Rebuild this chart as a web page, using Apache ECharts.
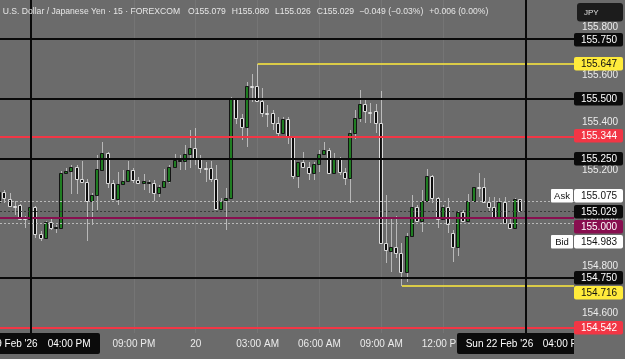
<!DOCTYPE html>
<html><head><meta charset="utf-8">
<script src="https://cdn.jsdelivr.net/npm/echarts@6/dist/echarts.min.js"></script>
<style>html,body{margin:0;padding:0;background:#6b6b6b;overflow:hidden}#c{width:625px;height:359px}</style>
</head><body><div id="c"></div>
<script>
// ---------- DATA ----------
const firstBarIndex = -6; // bar index 0 = Thu 19 Feb '26 04:00 PM (15-minute bars)
const opens = [155.067,155.109,155.081,155.051,155.053,155.003,154.997,155.048,154.933,154.916,154.982,154.960,154.958,155.189,155.198,155.213,155.165,155.150,155.073,155.098,155.203,155.271,155.146,155.081,155.143,155.154,155.201,155.161,155.146,155.150,155.146,155.104,155.129,155.154,155.212,155.242,155.239,155.267,155.295,155.246,155.210,155.211,155.162,155.038,155.074,155.083,155.497,155.418,155.383,155.553,155.553,155.490,155.440,155.439,155.397,155.358,155.414,155.345,155.177,155.236,155.215,155.190,155.225,155.270,155.284,155.190,155.253,155.193,155.166,155.358,155.418,155.478,155.446,155.450,155.397,154.897,154.863,154.877,154.852,154.774,154.925,155.045,154.989,155.071,155.176,155.083,154.995,155.048,154.936,154.880,155.024,154.988,155.071,155.129,155.129,155.066,155.045,155.006,155.066,154.981,154.957,155.079];
const highs = [155.119,155.119,155.105,155.070,155.059,155.008,155.055,155.050,154.944,154.986,155.000,154.972,155.198,155.210,155.222,155.221,155.240,155.165,155.105,155.265,155.319,155.277,155.159,155.193,155.201,155.240,155.210,155.172,155.185,155.161,155.161,155.140,155.207,155.224,155.268,155.264,155.306,155.369,155.379,155.264,155.236,155.239,155.222,155.085,155.127,155.508,155.504,155.435,155.569,155.602,155.647,155.546,155.474,155.453,155.425,155.425,155.425,155.345,155.236,155.275,155.236,155.236,155.285,155.320,155.292,155.271,155.257,155.208,155.369,155.453,155.536,155.495,155.481,155.478,155.534,155.097,154.999,155.009,154.894,154.936,155.097,155.055,155.117,155.205,155.180,155.089,155.055,155.083,154.950,155.031,155.034,155.101,155.131,155.187,155.167,155.089,155.089,155.083,155.087,154.999,155.083,155.080];
const lows = [155.059,155.063,155.045,155.014,154.993,154.958,154.994,154.916,154.903,154.912,154.951,154.937,154.954,155.185,155.101,155.101,155.146,154.903,154.972,155.035,155.201,155.126,155.078,155.056,155.141,155.150,155.147,155.143,155.119,155.105,155.073,155.087,155.126,155.147,155.210,155.201,155.201,155.210,155.222,155.187,155.152,155.152,155.034,155.034,154.950,155.080,155.393,155.327,155.299,155.487,155.487,155.425,155.383,155.369,155.334,155.355,155.309,155.164,155.127,155.208,155.159,155.159,155.194,155.264,155.187,155.187,155.180,155.139,155.062,155.330,155.404,155.397,155.397,155.355,154.894,154.810,154.775,154.831,154.716,154.733,154.922,154.985,154.943,155.068,155.062,154.957,154.992,154.939,154.817,154.842,154.985,154.985,155.068,155.089,155.062,155.027,155.003,155.003,154.978,154.953,154.953,155.026];
const closes = [155.109,155.084,155.049,155.049,154.996,154.998,155.048,154.933,154.916,154.982,154.958,154.963,155.187,155.198,155.215,155.164,155.150,155.073,155.098,155.205,155.271,155.146,155.081,155.143,155.154,155.201,155.159,155.147,155.154,155.151,155.104,155.129,155.157,155.212,155.242,155.244,155.267,155.295,155.246,155.208,155.209,155.162,155.038,155.071,155.083,155.497,155.418,155.383,155.553,155.551,155.490,155.439,155.438,155.397,155.358,155.414,155.345,155.177,155.236,155.215,155.187,155.225,155.270,155.284,155.190,155.253,155.193,155.166,155.358,155.418,155.478,155.450,155.445,155.397,154.897,154.866,154.877,154.852,154.774,154.925,155.045,154.989,155.071,155.176,155.083,154.995,155.048,154.975,154.880,155.024,154.988,155.071,155.129,155.127,155.066,155.045,155.006,155.066,154.981,154.957,155.079,155.029];

const priceTicks = [154.6, 154.8, 155.0, 155.2, 155.4, 155.6, 155.8];
const timeTickIdx = [20, 32, 44, 56, 68, 80];
const timeTickLabels = ['09:00 PM', '20', '03:00 AM', '06:00 AM', '09:00 AM', '12:00 PM'];

const blackLevels = [155.750, 155.500, 155.250, 154.750];
const redLevels = [155.344, 154.542];
const yellowStartIdx = [44, 72];
const yellowLevels = [155.647, 154.716];
const vLineIdx = [0, 96];
const vLineDates = ["Thu 19 Feb '26", "Sun 22 Feb '26"];
const vLineTimes = ['04:00 PM', '04:00 PM'];

const askPrice = 155.075, bidPrice = 154.983, lastPrice = 155.029, alertPrice = 155.000;

const labelPrices = [155.750, 155.647, 155.500, 155.344, 155.250, 155.075, 155.029, 155.000, 154.983, 154.750, 154.716, 154.542];
const labelKinds = ['black', 'yellow', 'black', 'red', 'black', 'ask', 'last', 'alert', 'bid', 'black', 'yellow', 'red'];

const headerTexts = ['U.S. Dollar / Japanese Yen · 15 · FOREXCOM', 'O155.079', 'H155.080', 'L155.026', 'C155.029', '\u22120.049 (\u22120.03%)', '+0.006 (0.00%)'];
const currencyLabel = 'JPY';

// ---------- LAYOUT / STYLE ----------
const BG = '#6b6b6b';
const FONT = 'Liberation Sans, Arial, sans-serif';
const xMin = -5.954, xMax = 105.373;
const yMin = 154.5184, yMax = 155.9135;

const candleData = opens.map((o, k) => [firstBarIndex + k, o, highs[k], lows[k], closes[k]]);

const chart = echarts.init(document.getElementById('c'), null, {renderer: 'canvas', width: 625, height: 359});

function hline(v, color, width, type) {
  return {yAxis: v, lineStyle: {color: color, width: width, type: type || 'solid'}};
}

const option = {
  animation: false,
  backgroundColor: BG,
  grid: {left: 0, right: 51, top: 0, bottom: 26},
  xAxis: {
    type: 'value', min: xMin, max: xMax,
    axisLine: {show: false}, axisTick: {show: false}, splitLine: {show: false},
    axisLabel: {
      customValues: timeTickIdx,
      formatter: v => { const k = timeTickIdx.indexOf(Math.round(v)); return k >= 0 ? timeTickLabels[k] : ''; },
      color: '#ececec', fontSize: 10, fontFamily: FONT, margin: 6
    }
  },
  yAxis: {
    type: 'value', position: 'right', min: yMin, max: yMax, scale: true,
    axisLine: {show: false}, axisTick: {show: false}, splitLine: {show: false},
    axisLabel: {
      customValues: priceTicks,
      formatter: v => v.toFixed(3),
      color: '#ececec', fontSize: 10, fontFamily: FONT, margin: 8
    }
  },
  series: [
    { // faint vertical grid
      type: 'line', data: [], z: 1, silent: true,
      markLine: {silent: true, animation: false, symbol: ['none', 'none'], label: {show: false},
        data: timeTickIdx.map(i => ({xAxis: i, lineStyle: {color: 'rgba(255,255,255,0.07)', width: 1, type: 'solid'}}))}
    },
    { // price lines (ask / last / alert / bid)
      type: 'line', data: [], z: 2, silent: true,
      markLine: {silent: true, animation: false, symbol: ['none', 'none'], label: {show: false},
        data: [
          hline(askPrice, '#b9b9b9', 1, [2, 2]),
          hline(lastPrice, '#3a3a3a', 1, [2, 2]),
          hline(bidPrice, '#b9b9b9', 1, [2, 2]),
          hline(alertPrice, '#880e4f', 2)
        ]}
    },
    { // candles
      type: 'custom', z: 3,
      data: candleData,
      encode: {x: 0, y: [1, 2, 3, 4]},
      renderItem: function (params, api) {
        const i = api.value(0), o = api.value(1), h = api.value(2), l = api.value(3), c = api.value(4);
        const pO = api.coord([i, o]), pC = api.coord([i, c]), pH = api.coord([i, h]), pL = api.coord([i, l]);
        const fx = Math.floor(pO[0]);
        const cx = fx + 0.5;
        const up = c >= o;
        let top = Math.round(Math.min(pO[1], pC[1])) + 0.5;
        let bot = Math.round(Math.max(pO[1], pC[1])) + 0.5;
        if (bot - top < 1) bot = top + 1;
        return {
          type: 'group',
          children: [
            {type: 'line', shape: {x1: cx, y1: Math.round(pH[1]), x2: cx, y2: Math.round(pL[1])},
              style: {stroke: '#b8b8b8', lineWidth: 1}},
            {type: 'rect', shape: {x: fx - 1.5, y: top, width: 3, height: bot - top},
              style: {fill: up ? '#1f7d22' : '#0c0c0c', stroke: up ? '#151515' : '#dcdcdc', lineWidth: 1}}
          ]
        };
      }
    },
    { // drawings
      type: 'line', data: [], z: 4, silent: true,
      markLine: {silent: true, animation: false, symbol: ['none', 'none'], label: {show: false},
        data: [].concat(
          blackLevels.map(v => hline(v, '#0a0a0a', 2)),
          redLevels.map(v => hline(v, '#f23645', 2)),
          yellowLevels.map((v, k) => [
            {coord: [yellowStartIdx[k], v], lineStyle: {color: '#ffeb3b', width: 1.7, type: 'solid'}},
            {coord: [xMax, v]}
          ]),
          vLineIdx.map(i => ({xAxis: i, lineStyle: {color: '#0a0a0a', width: 2, type: 'solid'}}))
        )}
    }
  ]
};
chart.setOption(option);

// ---------- overlay labels ----------
const yPix = p => chart.convertToPixel({yAxisIndex: 0}, p);
const xPix = i => chart.convertToPixel({xAxisIndex: 0}, i);
const kindStyle = {
  black: ['#0b0b0b', '#ffffff'], last: ['#0b0b0b', '#ffffff'], yellow: ['#ffeb3b', '#111111'],
  red: ['#f23645', '#ffffff'], alert: ['#880e4f', '#ffffff'], ask: ['#ffffff', '#111111'], bid: ['#ffffff', '#111111']
};
const GAP = 15.2;
const items = labelPrices.map((p, k) => ({p: p, kind: labelKinds[k], y: yPix(p)})).sort((a, b) => a.y - b.y);
const ai = items.findIndex(it => it.kind === 'last');
for (let k = ai + 1; k < items.length; k++) items[k].y = Math.max(items[k].y, items[k - 1].y + GAP);
for (let k = ai - 1; k >= 0; k--) items[k].y = Math.min(items[k].y, items[k + 1].y - GAP);

const g = [];
// time-axis boxes for vertical lines
vLineIdx.forEach((i, k) => {
  const cx = xPix(i);
  g.push({type: 'rect', z: 100, shape: {x: Math.round(cx - 69), y: 333, width: 138, height: 21, r: 2}, style: {fill: '#0b0b0b'}});
  g.push({type: 'text', z: 101, style: {text: vLineDates[k], x: cx - 60, y: 344, fill: '#ffffff', font: '10px ' + FONT, textAlign: 'left', textVerticalAlign: 'middle'}});
  g.push({type: 'text', z: 101, style: {text: vLineTimes[k], x: cx + 17, y: 344, fill: '#ffffff', font: '10px ' + FONT, textAlign: 'left', textVerticalAlign: 'middle'}});
});
// cover the bottom-right corner (price scale area)
g.push({type: 'rect', z: 102, shape: {x: 574, y: 333, width: 51, height: 26}, style: {fill: BG}});
// price scale labels
items.forEach(it => {
  const st = kindStyle[it.kind];
  const y0 = Math.round(it.y - 6.5);
  g.push({type: 'rect', z: 103, shape: {x: 574, y: y0, width: 49, height: 13.5, r: 2}, style: {fill: st[0]}});
  g.push({type: 'text', z: 104, style: {text: it.p.toFixed(3), x: 599, y: y0 + 7, fill: st[1], font: '10px ' + FONT, textAlign: 'center', textVerticalAlign: 'middle'}});
  if (it.kind === 'ask' || it.kind === 'bid') {
    g.push({type: 'rect', z: 103, shape: {x: 551, y: y0, width: 22, height: 13.5, r: 1}, style: {fill: st[0]}});
    g.push({type: 'text', z: 104, style: {text: it.kind === 'ask' ? 'Ask' : 'Bid', x: 562, y: y0 + 7, fill: st[1], font: '9.5px ' + FONT, textAlign: 'center', textVerticalAlign: 'middle'}});
  }
});
// currency box
g.push({type: 'rect', z: 103, shape: {x: 577, y: 3, width: 46, height: 18.5, r: 3}, style: {fill: '#1c1c1c'}});
g.push({type: 'text', z: 104, style: {text: currencyLabel, x: 584, y: 12.5, fill: '#e0e0e0', font: '8px ' + FONT, textAlign: 'left', textVerticalAlign: 'middle'}});
// header legend
const headerX = [2.7, 188, 231.7, 275, 316.8, 359.3, 429.3];
headerTexts.forEach((t, k) => {
  g.push({type: 'text', z: 104, style: {text: t, x: headerX[k], y: 12, fill: '#e6e6e6', font: '8.6px ' + FONT, textAlign: 'left', textVerticalAlign: 'middle'}});
});
chart.setOption({graphic: g});
</script>
</body></html>
